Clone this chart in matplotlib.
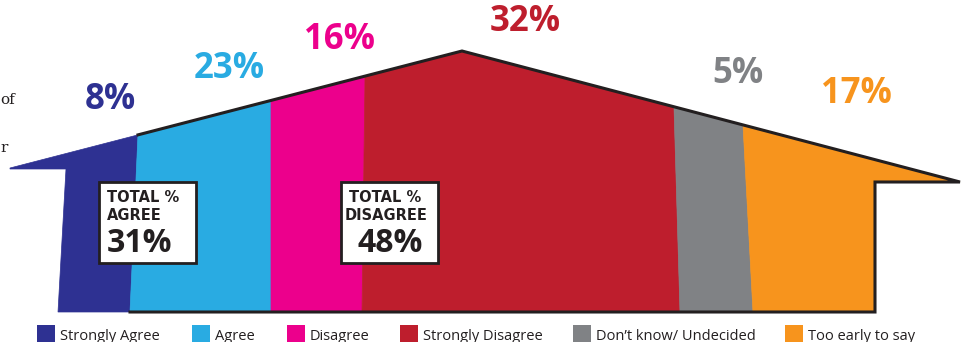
import numpy as np
import matplotlib.pyplot as plt
from matplotlib.patches import Polygon, Rectangle

# data
categories = ['Strongly Agree', 'Agree', 'Disagree', 'Strongly Disagree',
              "Don\u2019t know/ Undecided", 'Too early to say']
values = [8, 23, 16, 32, 5, 17]
totals = [('TOTAL %', 'AGREE', 31), ('TOTAL %', 'DISAGREE', 48)]
colors = ['#2e3192', '#29abe2', '#ec008c', '#be1e2d', '#808285', '#f7941d']

# house layout (pixel coordinates, y down)
base_y = 312
roof_x = [10, 462, 960]
roof_y = [168, 51, 182]
left_eave_y, right_eave_y = 169, 182
top_edges = [66, 138, 271, 365, 674, 743, 875]
bottom_edges = [58, 130, 271, 362, 680, 753, 875]
label_pos = [(110, 100), (229, 69), (340, 40), (525, 22), (738, 74), (856, 94)]
legend_x = [37, 192, 287, 400, 573, 785]

FONT = 'Open Sans'
DARK = '#231f20'

def roof(x):
    return float(np.interp(x, roof_x, roof_y))

fig = plt.figure(figsize=(9.65, 3.42), dpi=100)
ax = fig.add_axes([0, 0, 1, 1])
ax.set_xlim(0, 965)
ax.set_ylim(342, 0)
ax.axis('off')

for i, c in enumerate(colors):
    tx0, tx1 = top_edges[i], top_edges[i + 1]
    bx0, bx1 = bottom_edges[i], bottom_edges[i + 1]
    pts = [(bx0, base_y)]
    if i == 0:
        pts += [(tx0, left_eave_y), (roof_x[0], left_eave_y), (roof_x[0], roof_y[0])]
    else:
        pts.append((tx0, roof(tx0)))
    pts += [(rx, ry) for rx, ry in zip(roof_x, roof_y) if tx0 < rx < tx1]
    if i == len(colors) - 1:
        pts += [(roof_x[-1], roof_y[-1]), (tx1, right_eave_y)]
    else:
        pts.append((tx1, roof(tx1)))
    pts.append((bx1, base_y))
    ax.add_patch(Polygon(pts, closed=True, facecolor=c, edgecolor=c, lw=0.5))

# outline
ol = [(bottom_edges[1], base_y), (top_edges[-1], base_y), (top_edges[-1], right_eave_y),
      (roof_x[-1], roof_y[-1]), (roof_x[1], roof_y[1]), (top_edges[1], roof(top_edges[1]))]
ax.plot([p[0] for p in ol], [p[1] for p in ol], color=DARK, lw=2.2,
        solid_joinstyle='miter')

for v, c, (x, y) in zip(values, colors, label_pos):
    ax.text(x, y, f'{v}%', color=c, fontsize=25, fontweight='bold',
            family=FONT, ha='center', va='center')

# total boxes
box_x = [99, 341]
for (l1, l2, v), bx in zip(totals, box_x):
    ax.add_patch(Rectangle((bx, 182), 97, 81, facecolor='white',
                           edgecolor=DARK, lw=2))
    ax.text(bx + 8, 198, l1, fontsize=10.5, fontweight='bold',
            family='DejaVu Sans', color=DARK, ha='left', va='center')
    ax.text(bx + 4 if v == 48 else bx + 8, 216, l2, fontsize=10.5,
            fontweight='bold', family='DejaVu Sans', color=DARK,
            ha='left', va='center')
    ax.text(bx + 8 if v == 31 else bx + 49, 244, f'{v}%', fontsize=23,
            fontweight='bold', family=FONT, color=DARK,
            ha='left' if v == 31 else 'center', va='center')

# side text from the page
ax.text(0, 100, 'of', fontsize=11, family='DejaVu Serif', color=DARK,
        va='center', ha='left')
ax.text(0, 148, 'r', fontsize=11, family='DejaVu Serif', color=DARK,
        va='center', ha='left')

# legend
for lx, c, cat in zip(legend_x, colors, categories):
    ax.add_patch(Rectangle((lx, 325), 18, 20, facecolor=c, edgecolor='none'))
    ax.text(lx + 23, 336, cat, fontsize=10.5, family=FONT, color=DARK,
            ha='left', va='center')

fig.savefig('out.png', dpi=100)
